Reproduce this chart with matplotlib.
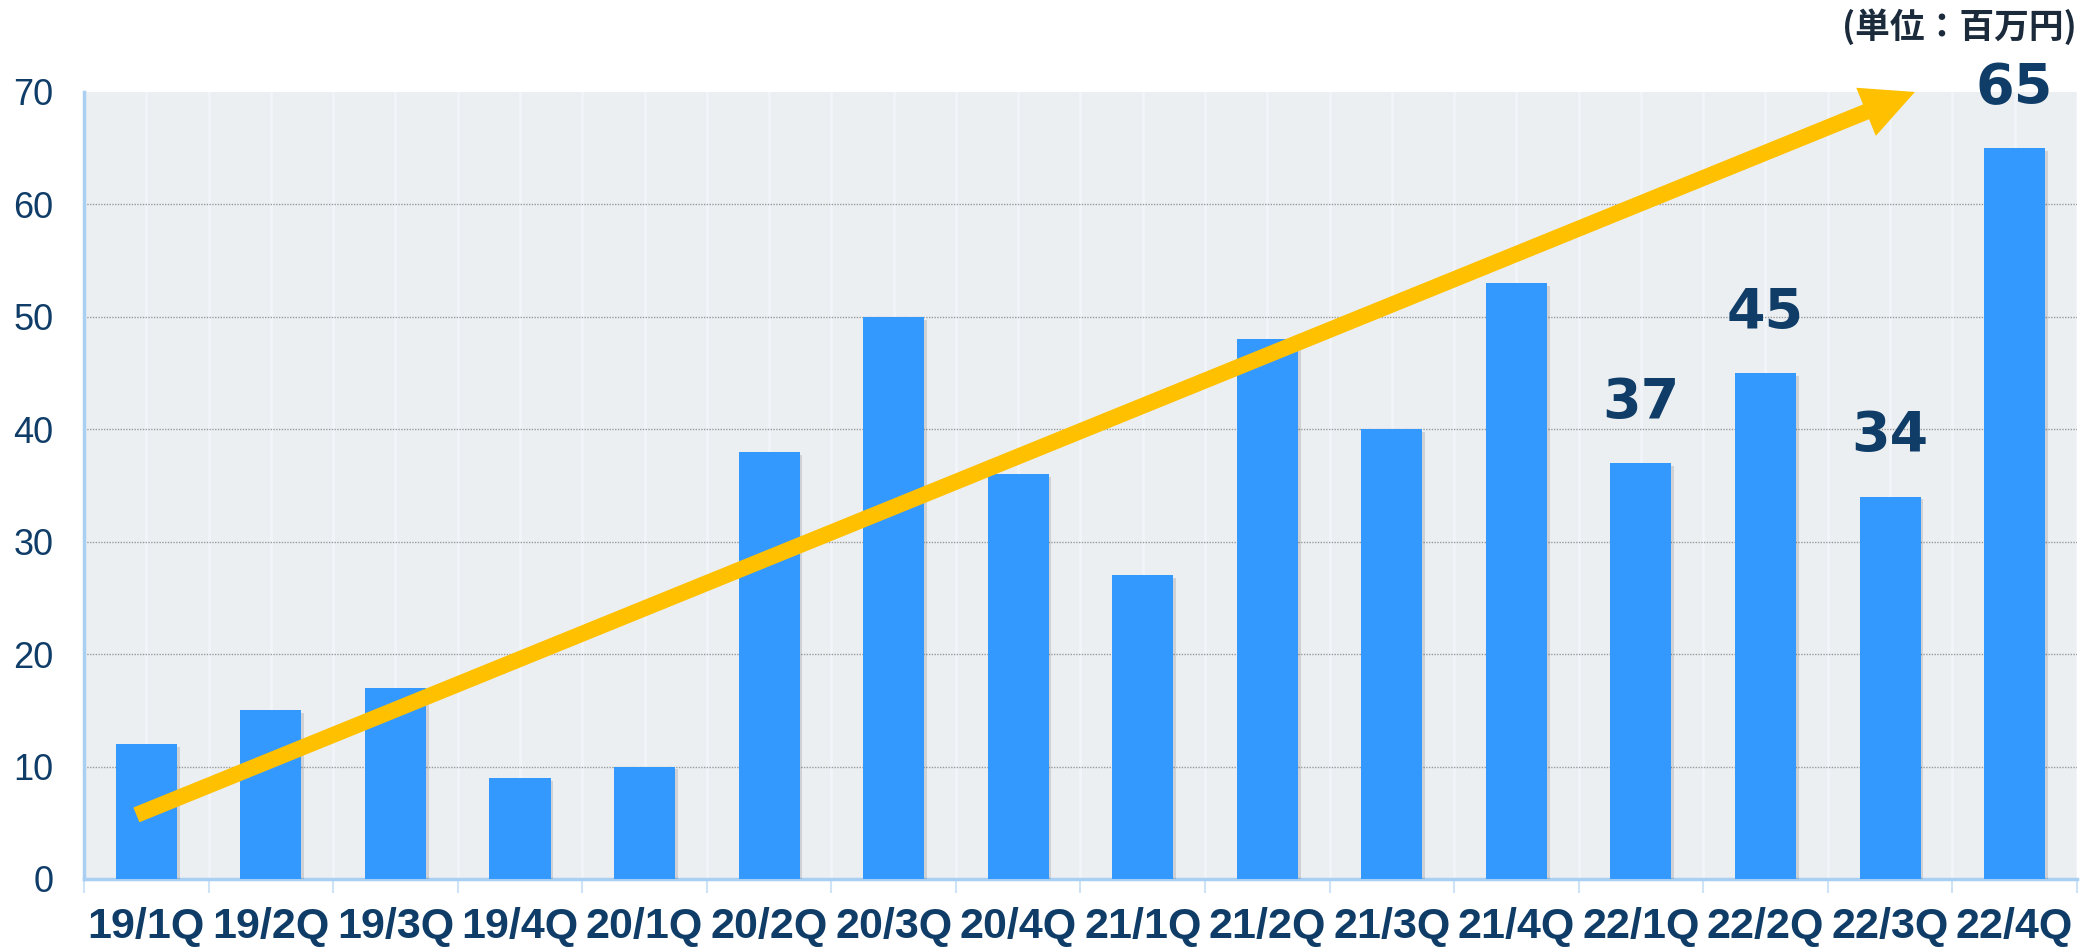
import matplotlib
matplotlib.use('Agg')
import matplotlib.pyplot as plt
import matplotlib.patheffects as pe
from matplotlib import font_manager
import numpy as np

quarters = ['19/1Q', '19/2Q', '19/3Q', '19/4Q', '20/1Q', '20/2Q', '20/3Q', '20/4Q',
            '21/1Q', '21/2Q', '21/3Q', '21/4Q', '22/1Q', '22/2Q', '22/3Q', '22/4Q']
values = [12, 15, 17, 9, 10, 38, 50, 36, 27, 48, 40, 53, 37, 45, 34, 65]
labelled = ['22/1Q', '22/2Q', '22/3Q', '22/4Q']
yticks = [0, 10, 20, 30, 40, 50, 60, 70]

navy = '#0f3d68'
bar_color = '#3399ff'
arrow_color = '#ffc000'

names = {f.name for f in font_manager.fontManager.ttflist}
narrow = 'Liberation Sans Narrow' if 'Liberation Sans Narrow' in names else 'Liberation Sans'

fig = plt.figure(figsize=(20.81, 9.48), dpi=100)
ax = fig.add_axes([0.0404, 0.0728, 0.9576, 0.8302])
ax.set_facecolor('#eceff2')

x = np.arange(len(quarters))
bars = ax.bar(x, values, width=0.49, color=bar_color, zorder=3)
for b in bars:
    b.set_path_effects([pe.SimplePatchShadow(offset=(2, -2), shadow_rgbFace='black', alpha=0.12), pe.Normal()])

ax.set_xlim(-0.5, len(quarters) - 0.5)
ax.set_ylim(0, 70)

# grid
for v in yticks[1:-1]:
    ax.axhline(v, color='#9a9a9a', lw=1, ls=(0, (1, 1)), zorder=1)
for gx in np.arange(-0.5, len(quarters), 0.5):
    ax.axvline(gx, color='#f1f5fa', lw=2, zorder=0.5)

ax.set_yticks(yticks)
ax.set_yticklabels([str(v) for v in yticks], fontsize=26, color=navy, family='Liberation Sans')
ax.tick_params(axis='y', length=0, pad=22)

ax.set_xticks(x)
ax.set_xticklabels(quarters, fontsize=31, fontweight='bold', color=navy, family=narrow)
ax.tick_params(axis='x', which='major', length=0, pad=20)
ax.set_xticks(np.arange(-0.5, len(quarters), 1), minor=True)
ax.tick_params(axis='x', which='minor', length=10, width=1.5, color='#cfe3f7')

for s in ['top', 'right']:
    ax.spines[s].set_visible(False)
for s in ['left', 'bottom']:
    ax.spines[s].set_color('#a9cff2')
    ax.spines[s].set_linewidth(2.5)

# value labels
for q, v in zip(quarters, values):
    if q in labelled:
        ax.annotate(str(v), xy=(quarters.index(q), v), xytext=(0, 24), textcoords='offset points',
                    ha='center', va='bottom', fontsize=40, fontweight='bold', color=navy,
                    family='DejaVu Sans', annotation_clip=False, zorder=5)

# trend arrow
ax.annotate('', xy=(14.2, 70.0), xytext=(-0.08, 5.7),
            arrowprops=dict(arrowstyle='simple,head_length=3.8,head_width=3.74,tail_width=1.15',
                            mutation_scale=10, color=arrow_color, shrinkA=0, shrinkB=0, lw=0),
            annotation_clip=False, zorder=6)

fig.text(0.998, 0.972, '(単位：百万円)', ha='right', va='center', fontsize=25, fontweight='bold',
         color='#1b2b3c', family=['Noto Sans CJK JP', 'DejaVu Sans'])

fig.savefig('out.png', dpi=100)
